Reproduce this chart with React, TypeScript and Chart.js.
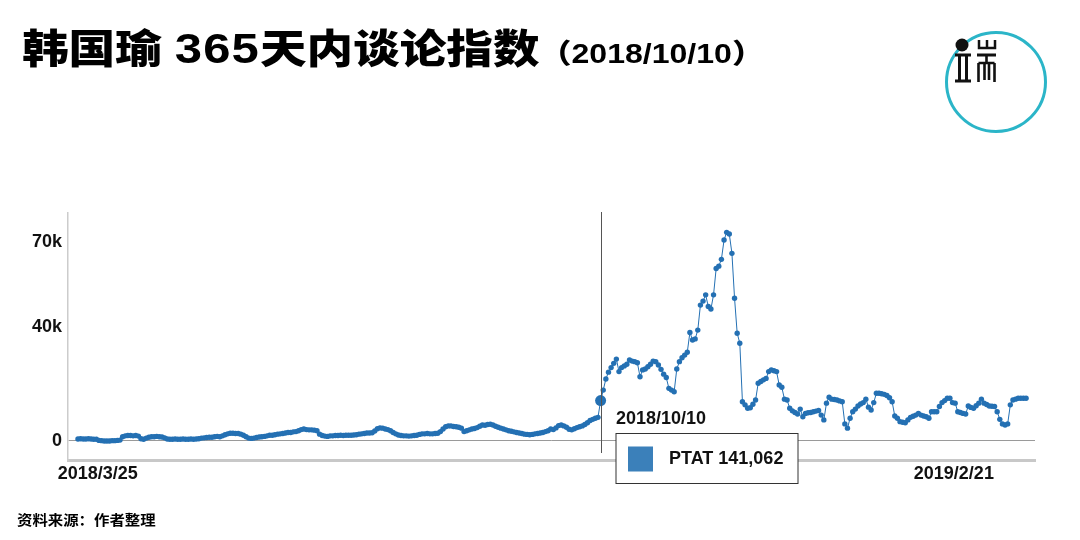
import React, { useEffect, useRef } from 'react';
import { Chart, registerables } from 'chart.js';

Chart.register(...registerables);

// Daily discussion index (thousands), one value per day starting 2018/3/25
const values: number[] = [
  0.7, 0.8, 0.7, 0.7, 0.8, 0.7, 0.6, 0.6, 0.2, 0.1,
  0.0, 0.0, 0.0, 0.1, 0.1, 0.2, 0.3, 1.5, 1.8, 1.9,
  1.9, 1.8, 1.9, 1.7, 0.8, 0.6, 1.0, 1.3, 1.5, 1.5,
  1.6, 1.5, 1.4, 1.1, 0.7, 0.6, 0.6, 0.7, 0.6, 0.6,
  0.7, 0.6, 0.6, 0.7, 0.6, 0.7, 0.8, 1.0, 1.1, 1.2,
  1.3, 1.3, 1.5, 1.6, 1.5, 1.8, 2.2, 2.5, 2.7, 2.7,
  2.6, 2.6, 2.4, 2.0, 1.5, 1.0, 0.9, 1.0, 1.2, 1.4,
  1.5, 1.6, 1.8, 2.0, 2.0, 2.2, 2.4, 2.5, 2.6, 2.8,
  3.0, 3.0, 3.2, 3.3, 3.6, 4.0, 4.2, 4.0, 3.9, 3.9,
  3.8, 3.6, 2.4, 1.9, 1.7, 1.6, 1.8, 1.8, 1.9, 1.9,
  2.0, 1.9, 2.0, 2.0, 2.0, 2.1, 2.2, 2.4, 2.5, 2.6,
  2.8, 2.8, 2.9, 3.5, 4.3, 4.6, 4.5, 4.2, 4.0, 3.6,
  3.0, 2.5, 2.1, 1.9, 1.8, 1.8, 1.7, 1.8, 1.9, 2.0,
  2.3, 2.5, 2.5, 2.6, 2.5, 2.5, 2.6, 2.7, 3.3, 4.2,
  5.0, 5.3, 5.3, 5.1, 5.0, 4.8, 4.5, 3.3, 3.6, 3.9,
  4.2, 4.4, 4.7, 5.2, 5.6, 5.5, 5.8, 5.9, 5.6, 5.2,
  4.8, 4.5, 4.2, 3.9, 3.6, 3.4, 3.2, 3.0, 2.8, 2.6,
  2.4, 2.3, 2.2, 2.3, 2.5, 2.6, 2.8, 3.0, 3.3, 3.6,
  4.2, 4.0, 4.6, 5.4, 5.6, 5.3, 4.8, 4.1, 3.9, 4.3,
  4.7, 5.0, 5.3, 5.8, 6.4, 7.2, 7.6, 8.0, 8.3, 14.2,
  17.9, 21.8, 24.2, 25.8, 27.3, 28.8, 24.4, 25.8, 26.4, 27.0,
  28.5, 28.1, 27.9, 27.5, 22.6, 25.0, 25.3, 26.1, 27.0, 28.1,
  27.9, 26.7, 25.2, 23.5, 22.3, 18.5, 17.9, 17.3, 25.3, 27.9,
  29.3, 30.2, 31.2, 38.2, 35.5, 35.9, 39.0, 47.8, 49.2, 51.4,
  47.3, 46.4, 51.4, 60.7, 61.5, 63.9, 70.7, 73.4, 72.8, 66.0,
  50.2, 37.9, 34.4, 13.8, 12.7, 11.5, 11.7, 12.9, 14.4, 20.3,
  20.9, 21.5, 22.0, 24.4, 25.0, 24.7, 24.4, 19.7, 18.9, 14.7,
  14.4, 11.5, 10.6, 10.0, 9.5, 11.2, 8.5, 9.7, 9.9, 10.0,
  10.3, 10.5, 10.7, 9.1, 7.4, 13.3, 15.4, 14.7, 14.6, 14.4,
  14.1, 13.8, 6.0, 4.5, 8.0, 10.3, 11.2, 12.3, 13.0, 13.5,
  14.7, 11.9, 10.9, 13.5, 16.8, 16.8, 16.6, 16.4, 16.0, 15.2,
  13.8, 8.8, 8.0, 6.8, 6.6, 6.4, 7.4, 8.3, 8.7, 9.1,
  9.7, 9.1, 8.8, 8.5, 8.0, 10.3, 10.3, 10.3, 12.1, 13.5,
  14.2, 15.0, 15.0, 13.5, 13.3, 10.3, 10.0, 9.7, 9.5, 12.3,
  11.8, 11.5, 12.4, 13.3, 14.7, 13.3, 12.8, 12.3, 12.2, 12.1,
  10.3, 7.6, 6.0, 5.6, 6.0, 12.7, 14.4, 14.7, 15.0, 15.0,
  15.0, 15.0,
];

const yTickValues = [0, 40, 70];
const yTickLabels = ['0', '40k', '70k'];
const xTickDays = [7.5, 333.5];
const xTickLabels = ['2018/3/25', '2019/2/21'];

const markerDay = 199;
const markerDate = '2018/10/10';
const markerSeries = 'PTAT';
const markerValue = '141,062';

const titleName = '韩国瑜 ';
const titleDays = '365';
const titleRest = '天内谈论指数';
const titleSub = '（2018/10/10）';
const sourceText = '资料来源：作者整理';

const LINE_BLUE = '#2470b3';
const FONT = '"Liberation Sans", Arial, "Noto Sans CJK SC", sans-serif';

const markerPlugin = {
  id: 'marker',
  afterDraw(chart: any) {
    const { ctx, chartArea, scales } = chart;
    const xs = scales.x;
    const ys = scales.y;
    const px = Math.round(xs.getPixelForValue(markerDay)) + 0.5;
    const y0 = ys.getPixelForValue(0);
    ctx.save();
    ctx.strokeStyle = '#555';
    ctx.lineWidth = 1;
    ctx.beginPath();
    ctx.moveTo(px, chartArea.top - 1);
    ctx.lineTo(px, chartArea.bottom - 7);
    ctx.stroke();

    ctx.fillStyle = '#111';
    ctx.font = `bold 18px ${FONT}`;
    ctx.textBaseline = 'middle';
    ctx.textAlign = 'left';
    ctx.fillText(markerDate, px + 14.5, y0 - 22);

    const bx = px + 14.5;
    const by = Math.round(y0 - 8) + 0.5;
    ctx.fillStyle = '#fff';
    ctx.fillRect(bx, by, 182, 50);
    ctx.strokeStyle = '#333';
    ctx.lineWidth = 1;
    ctx.strokeRect(bx, by, 182, 50);
    ctx.fillStyle = '#3b80ba';
    ctx.fillRect(bx + 12, by + 13, 25, 25);
    ctx.fillStyle = '#111';
    ctx.font = `bold 18px ${FONT}`;
    ctx.fillText(`${markerSeries} ${markerValue}`, bx + 53, by + 26);
    ctx.restore();
  },
};

function ChartCanvas() {
  const ref = useRef<HTMLCanvasElement | null>(null);
  useEffect(() => {
    if (!ref.current) return;
    const points = values.map((v, i) => ({ x: i, y: v }));
    const chart = new Chart(ref.current, {
      type: 'line',
      data: {
        datasets: [
          {
            data: points,
            borderColor: LINE_BLUE,
            backgroundColor: LINE_BLUE,
            borderWidth: 1,
            pointRadius: (c: any) => (c.dataIndex === markerDay ? 5.5 : 2.7),
            pointBorderWidth: 0,
            pointBackgroundColor: LINE_BLUE,
            tension: 0,
          },
        ],
      },
      options: {
        animation: false,
        responsive: false,
        devicePixelRatio: 1,
        layout: { padding: { top: 213, left: 0, right: 45, bottom: 50 } },
        plugins: { legend: { display: false }, tooltip: { enabled: false } },
        scales: {
          x: {
            type: 'linear',
            min: -3.8,
            max: 364.4,
            afterBuildTicks: (s: any) => {
              s.ticks = xTickDays.map((v) => ({ value: v }));
            },
            afterFit: (s: any) => {
              s.height = 30;
            },
            grid: { display: false, drawTicks: false },
            border: { display: true, color: '#c8c8c8', width: 3 },
            ticks: {
              padding: 3,
              maxRotation: 0,
              autoSkip: false,
              color: '#111',
              font: { family: FONT, size: 18, weight: 'bold' },
              callback: (_v: any, i: number) => xTickLabels[i],
            },
          },
          y: {
            min: -6.7,
            max: 80.2,
            afterBuildTicks: (s: any) => {
              s.ticks = yTickValues.map((v) => ({ value: v }));
            },
            afterFit: (s: any) => {
              s.width = 68;
            },
            grid: {
              drawTicks: false,
              color: (c: any) => (c.tick && c.tick.value === 0 ? '#9a9a9a' : 'rgba(0,0,0,0)'),
              lineWidth: 1,
            },
            border: { display: true, color: '#cccccc', width: 1.5 },
            ticks: {
              padding: 6,
              color: '#111',
              font: { family: FONT, size: 18, weight: 'bold' },
              callback: (_v: any, i: number) => yTickLabels[i],
            },
          },
        },
      },
      plugins: [markerPlugin],
    });
    return () => chart.destroy();
  }, []);
  return (
    <canvas
      ref={ref}
      width={1080}
      height={540}
      style={{ position: 'absolute', left: 0, top: 0, width: 1080, height: 540 }}
    />
  );
}

function Logo() {
  const k = '#111';
  return (
    <svg
      width={1080}
      height={540}
      style={{ position: 'absolute', left: 0, top: 0, pointerEvents: 'none' }}
    >
      <circle cx={996} cy={82} r={49.5} fill="none" stroke="#2bb5c8" strokeWidth={3} />
      <circle cx={962} cy={45} r={6.5} fill="#111" />
      <g stroke={k} strokeWidth={2.5} fill="none">
        <path d="M979 40 V48 H995 V40 M987 40 V48" />
        <path d="M955 55 H971 M955 81 H971" strokeWidth={3} />
        <path d="M959.5 55 V81 M966.5 55 V81" strokeWidth={3} />
        <path d="M977 55 H996" strokeWidth={3} />
        <path d="M978.5 63 H994.5 M978.5 63 V82 M994.5 63 V82 M984.5 63 V80 M989 63 V80 M986.5 55 V63" strokeWidth={2.6} />
      </g>
    </svg>
  );
}

export default function App() {
  return (
    <div
      style={{
        position: 'fixed',
        left: 0,
        top: 0,
        width: 1080,
        height: 540,
        background: '#fff',
        overflow: 'hidden',
      }}
    >
      <ChartCanvas />
      <div
        style={{
          position: 'absolute',
          left: 22,
          top: 22,
          whiteSpace: 'nowrap',
          fontFamily: FONT,
          fontWeight: 900,
          color: '#000',
          transform: 'scaleX(1.165)',
          transformOrigin: 'left top',
          lineHeight: '54px',
        }}
      >
        <span style={{ fontSize: 40 }}>{titleName}</span>
        <span style={{ fontSize: 42, letterSpacing: 1 }}>{titleDays}</span>
        <span style={{ fontSize: 40 }}>{titleRest}</span>
        <span style={{ fontSize: 27.5 }}>{titleSub}</span>
      </div>
      <div
        style={{
          position: 'absolute',
          left: 17,
          top: 509,
          whiteSpace: 'nowrap',
          fontFamily: FONT,
          fontWeight: 700,
          fontSize: 14,
          color: '#000',
          transform: 'scaleX(1.1)',
          transformOrigin: 'left top',
        }}
      >
        {sourceText}
      </div>
      <Logo />
    </div>
  );
}
